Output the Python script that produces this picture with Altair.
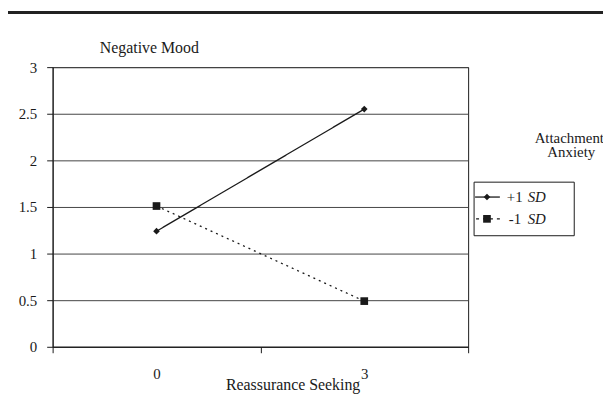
import altair as alt
import pandas as pd

# ---- data ----
x_values = [0, 3]
series_names = ["+1 SD", "-1 SD"]
plus_sd = [1.24, 2.55]
minus_sd = [1.51, 0.49]
y_ticks = [0, 0.5, 1, 1.5, 2, 2.5, 3]
x_tick_positions = [-1.5, 0, 1.5, 3, 4.5]

rows = []
for name, vals in zip(series_names, [plus_sd, minus_sd]):
    for xv, yv in zip(x_values, vals):
        rows.append({"x": xv, "y": yv, "series": name})
df = pd.DataFrame(rows)

FONT = "Liberation Serif"
INK = "#1a1a1a"
W, H = 419, 282

xscale = alt.Scale(domain=[-1.5, 4.5], nice=False, zero=False)
yscale = alt.Scale(domain=[0, 3], nice=False)

xaxis = alt.Axis(
    values=x_tick_positions,
    labelExpr="datum.value == 0 ? '0' : (datum.value == 3 ? '3' : '')",
    tickOpacity={"condition": {"test": "datum.value == 0 || datum.value == 3", "value": 0}, "value": 1},
    grid=False, tickSize=6, tickColor=INK, domainColor=INK,
    labelFont=FONT, labelFontSize=15, labelColor=INK, labelPadding=14,
    title="Reassurance  Seeking", titleFont=FONT, titleFontSize=16, titleFontWeight="normal",
    titleColor=INK, titleX=242, titleY=43, titleAlign="center", titleBaseline="alphabetic",
)
yaxis = alt.Axis(
    values=y_ticks, format="~g", grid=True, gridColor="#444", gridWidth=1, gridOpacity=1,
    tickSize=6, tickColor=INK, domainColor=INK,
    labelFont=FONT, labelFontSize=15, labelColor=INK, labelPadding=10,
    title="Negative  Mood", titleFont=FONT, titleFontSize=16, titleFontWeight="normal",
    titleColor=INK, titleAngle=0, titleX=97, titleY=-20, titleAlign="center", titleBaseline="middle",
)

base = alt.Chart(df)

lines = base.mark_line(color=INK, strokeWidth=1.3).encode(
    x=alt.X("x:Q", scale=xscale, axis=xaxis),
    y=alt.Y("y:Q", scale=yscale, axis=yaxis),
    strokeDash=alt.StrokeDash("series:N", scale=alt.Scale(domain=series_names, range=[[1, 0], [2, 4]]), legend=None),
    detail="series:N",
)
points = base.mark_point(filled=True, color=INK, opacity=1).encode(
    x=alt.X("x:Q", scale=xscale),
    y=alt.Y("y:Q", scale=yscale),
    shape=alt.Shape("series:N", scale=alt.Scale(domain=series_names, range=["diamond", "square"]), legend=None),
    size=alt.Size("series:N", scale=alt.Scale(domain=series_names, range=[45, 60]), legend=None),
)

# ---- decorations: top rule and custom legend ----
one = pd.DataFrame({"k": [0]})
deco = alt.Chart(one)
top_rule = deco.mark_rule(color="#222", strokeWidth=3).encode(
    x=alt.value(-45), x2=alt.value(558), y=alt.value(-55))

LF = 15
leg_title1 = deco.mark_text(text="Attachment", font=FONT, fontSize=LF, color=INK, align="center", baseline="middle").encode(
    x=alt.value(521), y=alt.value(71))
leg_title2 = deco.mark_text(text="Anxiety", font=FONT, fontSize=LF, color=INK, align="center", baseline="middle").encode(
    x=alt.value(523), y=alt.value(86))
leg_box = deco.mark_rect(fill="white", stroke=INK, strokeWidth=1).encode(
    x=alt.value(425), x2=alt.value(526), y=alt.value(116), y2=alt.value(170))
leg_line1 = deco.mark_rule(color=INK, strokeWidth=1.3).encode(
    x=alt.value(426), x2=alt.value(451), y=alt.value(131))
leg_pt1 = deco.mark_point(shape="diamond", filled=True, color=INK, opacity=1, size=45).encode(
    x=alt.value(438), y=alt.value(131))
leg_line2 = deco.mark_rule(color=INK, strokeWidth=1.3, strokeDash=[3, 4]).encode(
    x=alt.value(427), x2=alt.value(451), y=alt.value(153))
leg_pt2 = deco.mark_point(shape="square", filled=True, color=INK, opacity=1, size=60).encode(
    x=alt.value(438), y=alt.value(153))
leg_t1 = deco.mark_text(text="+1", font=FONT, fontSize=LF, color=INK, align="left", baseline="middle").encode(
    x=alt.value(458), y=alt.value(131))
leg_t1b = deco.mark_text(text="SD", font=FONT, fontSize=LF, fontStyle="italic", color=INK, align="left", baseline="middle").encode(
    x=alt.value(479), y=alt.value(131))
leg_t2 = deco.mark_text(text="-1", font=FONT, fontSize=LF, color=INK, align="left", baseline="middle").encode(
    x=alt.value(460), y=alt.value(153))
leg_t2b = deco.mark_text(text="SD", font=FONT, fontSize=LF, fontStyle="italic", color=INK, align="left", baseline="middle").encode(
    x=alt.value(479), y=alt.value(153))

chart = alt.layer(
    lines, points, top_rule, leg_title1, leg_title2, leg_box,
    leg_line1, leg_pt1, leg_line2, leg_pt2, leg_t1, leg_t1b, leg_t2, leg_t2b,
).properties(
    width=W, height=H,
    autosize=alt.AutoSizeParams(type="none"),
    padding={"left": 45, "top": 58, "right": 136, "bottom": 49},
    background="white",
).configure_view(stroke=INK, strokeWidth=1)

chart.save("out.html", embed_options={"renderer": "svg", "actions": False})
